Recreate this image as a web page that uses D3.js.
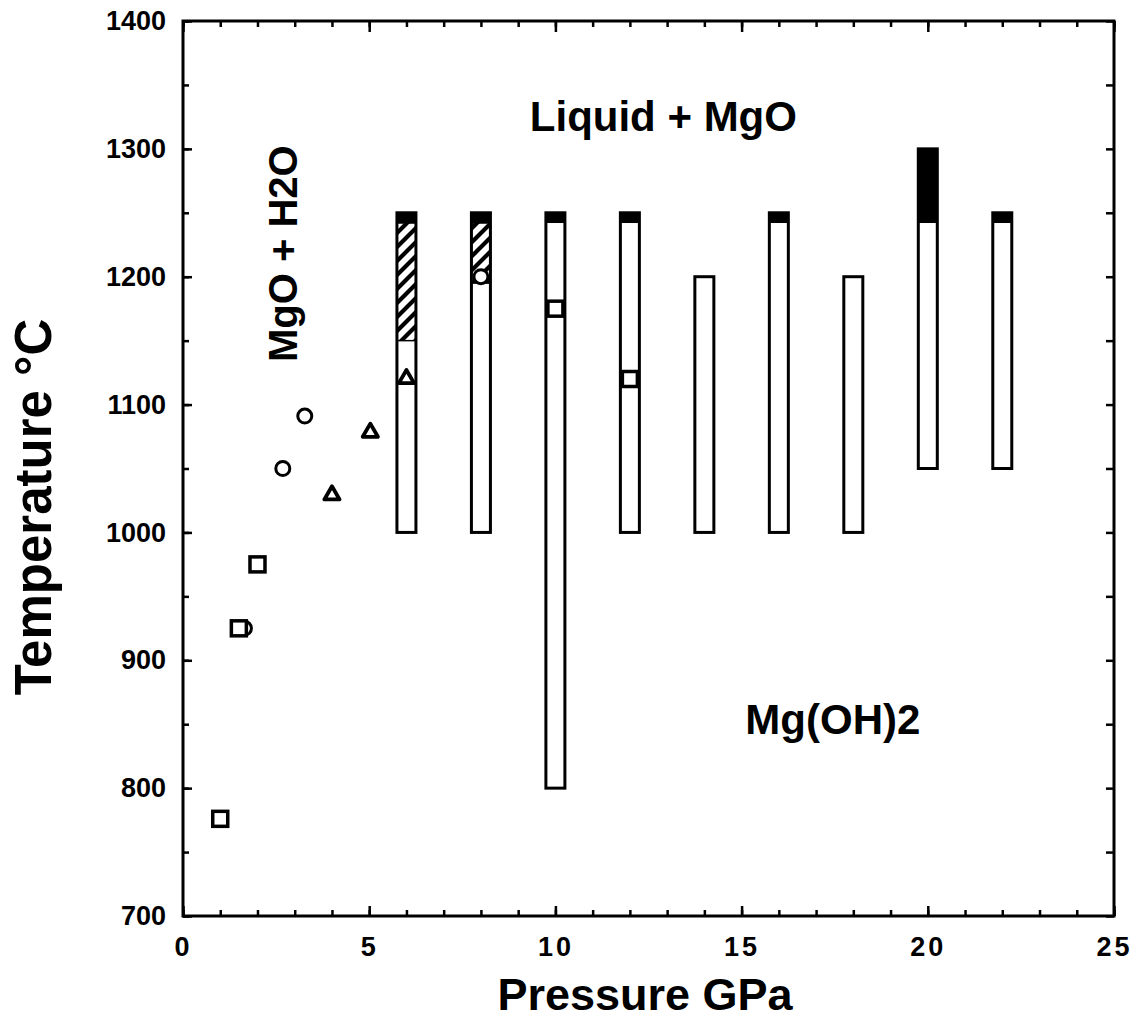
<!DOCTYPE html>
<html>
<head>
<meta charset="utf-8">
<script src="https://cdn.jsdelivr.net/npm/d3@7"></script>
<style>
  html, body { margin: 0; padding: 0; background: #fff; }
  svg { display: block; }
  text { font-family: "Liberation Sans", Arial, Helvetica, sans-serif; font-weight: bold; fill: #000; }
</style>
</head>
<body>
<svg id="chart" width="1139" height="1022"></svg>
<script>
// Experimental runs: pressure (GPa) and temperature span (°C) of each column
const runPressure = [6, 8, 10, 12, 14, 16, 18, 20, 22];
const runLow      = [1000, 1000, 800, 1000, 1000, 1000, 1000, 1050, 1050];
const runHigh     = [1250, 1250, 1250, 1250, 1200, 1250, 1200, 1300, 1250];
// melt observed (solid black) from this temperature up to the top of the column
const meltFrom    = [1242, 1242, 1242, 1242, null, 1242, null, 1242, 1242];
// hatched interval: from this temperature up to the melt band
const hatchFrom   = [1150, 1195, null, null, null, null, null, null, null];

// Literature brucite dehydration points
const squareP = [1, 1.5, 2, 10, 12];
const squareT = [776, 925, 975, 1175, 1120];
const circleP = [1.65, 2.68, 3.27, 8];
const circleT = [925, 1050, 1091, 1200];
const triangleP = [4, 5.03, 6];
const triangleT = [1030, 1079, 1121];

// Axis ticks
const xMajorTicks = [0, 5, 10, 15, 20, 25];
const yMajorTicks = [700, 800, 900, 1000, 1100, 1200, 1300, 1400];

// Field labels
const fieldLabels = [
  { text: "Liquid + MgO", p: 12.9, t: 1314, size: 42, rotate: false },
  { text: "MgO + H2O", p: 3.05, t: 1218, size: 40, rotate: true },
  { text: "Mg(OH)2", p: 17.45, t: 842, size: 42, rotate: false }
];

const svg = d3.select("#chart");
const plotLeft = 183, plotRight = 1114, plotTop = 21, plotBottom = 916;

const x = d3.scaleLinear().domain([0, 25]).range([plotLeft, plotRight]);
const y = d3.scaleLinear().domain([700, 1400]).range([plotBottom, plotTop]);

// hatch pattern
const hp = 14;
const defs = svg.append("defs");
const pat = defs.append("pattern")
  .attr("id", "hatch")
  .attr("patternUnits", "userSpaceOnUse")
  .attr("width", hp).attr("height", hp);
pat.append("rect").attr("width", hp).attr("height", hp).attr("fill", "#fff");
pat.append("path")
  .attr("d", `M-3,${hp + 3} L${hp + 3},-3 M-3,3 L3,-3 M${hp - 3},${hp + 3} L${hp + 3},${hp - 3}`)
  .attr("stroke", "#000").attr("stroke-width", 4.2);

// axes with inward ticks on all four sides
const xMinor = d3.range(0, 26, 1);
const yMinor = d3.range(700, 1401, 50);

function styleAxis(g) {
  g.select(".domain").remove();
  g.selectAll(".tick line").attr("stroke", "#000").attr("stroke-width", 2.5);
}
function styleLabels(g, size) {
  g.selectAll(".tick text").attr("font-size", size)
    .attr("font-family", '"Liberation Sans", Arial, sans-serif').attr("font-weight", "bold");
}

svg.append("g").attr("transform", `translate(0,${plotBottom})`)
  .call(d3.axisBottom(x).tickValues(xMinor).tickSize(-6).tickFormat(""))
  .call(styleAxis);
svg.append("g").attr("transform", `translate(0,${plotBottom})`)
  .call(d3.axisBottom(x).tickValues(xMajorTicks).tickSize(-10).tickPadding(21).tickFormat(d3.format("d")))
  .call(styleAxis)
  .call(g => styleLabels(g, 27))
  .call(g => g.selectAll(".tick text").attr("letter-spacing", 3));
svg.append("g").attr("transform", `translate(0,${plotTop})`)
  .call(d3.axisTop(x).tickValues(xMinor).tickSize(-6).tickFormat(""))
  .call(styleAxis);
svg.append("g").attr("transform", `translate(0,${plotTop})`)
  .call(d3.axisTop(x).tickValues(xMajorTicks).tickSize(-11).tickFormat(""))
  .call(styleAxis);

svg.append("g").attr("transform", `translate(${plotLeft},0)`)
  .call(d3.axisLeft(y).tickValues(yMinor).tickSize(-6).tickFormat(""))
  .call(styleAxis);
svg.append("g").attr("transform", `translate(${plotLeft},0)`)
  .call(d3.axisLeft(y).tickValues(yMajorTicks).tickSize(-9).tickPadding(17).tickFormat(d3.format("d")))
  .call(styleAxis)
  .call(g => styleLabels(g, 27));
svg.append("g").attr("transform", `translate(${plotRight},0)`)
  .call(d3.axisRight(y).tickValues(yMinor).tickSize(-8).tickFormat(""))
  .call(styleAxis);

// frame
svg.append("rect")
  .attr("x", plotLeft).attr("y", plotTop)
  .attr("width", plotRight - plotLeft).attr("height", plotBottom - plotTop)
  .attr("fill", "none").attr("stroke", "#000").attr("stroke-width", 3);

// run columns
const barW = 19;
const runs = runPressure.map((p, i) => ({
  p, lo: runLow[i], hi: runHigh[i], melt: meltFrom[i], hatch: hatchFrom[i]
}));
const cols = svg.append("g").selectAll("g").data(runs).join("g");
cols.append("rect")
  .attr("x", d => x(d.p) - barW / 2).attr("width", barW)
  .attr("y", d => y(d.hi)).attr("height", d => y(d.lo) - y(d.hi))
  .attr("fill", "#fff");
cols.filter(d => d.hatch != null).append("rect")
  .attr("x", d => x(d.p) - barW / 2).attr("width", barW)
  .attr("y", d => y(d.melt)).attr("height", d => y(d.hatch) - y(d.melt))
  .attr("fill", "url(#hatch)").attr("stroke", "#000").attr("stroke-width", 1.5);
cols.filter(d => d.melt != null).append("rect")
  .attr("x", d => x(d.p) - barW / 2).attr("width", barW)
  .attr("y", d => y(d.hi)).attr("height", d => y(d.melt) - y(d.hi))
  .attr("fill", "#000");
cols.append("rect")
  .attr("x", d => x(d.p) - barW / 2).attr("width", barW)
  .attr("y", d => y(d.hi)).attr("height", d => y(d.lo) - y(d.hi))
  .attr("fill", "none").attr("stroke", "#000").attr("stroke-width", 3);

// literature points
const circles = circleP.map((p, i) => ({ p, t: circleT[i] }));
const squares = squareP.map((p, i) => ({ p, t: squareT[i] }));
const triangles = triangleP.map((p, i) => ({ p, t: triangleT[i] }));

svg.append("g").selectAll("circle").data(circles).join("circle")
  .attr("cx", d => x(d.p)).attr("cy", d => y(d.t)).attr("r", 7)
  .attr("fill", "#fff").attr("stroke", "#000").attr("stroke-width", 3);
svg.append("g").selectAll("rect").data(squares).join("rect")
  .attr("x", d => x(d.p) - 7.5).attr("y", d => y(d.t) - 7.5)
  .attr("width", 15).attr("height", 15)
  .attr("fill", "#fff").attr("stroke", "#000").attr("stroke-width", 3.5);
const tri = d3.symbol().type(d3.symbolTriangle).size(100);
svg.append("g").selectAll("path").data(triangles).join("path")
  .attr("transform", d => `translate(${x(d.p)},${y(d.t) + 1})`)
  .attr("d", tri)
  .attr("fill", "#fff").attr("stroke", "#000").attr("stroke-width", 3.8)
  .attr("stroke-linejoin", "round");

// field labels
fieldLabels.forEach(l => {
  const t = svg.append("text")
    .attr("font-size", l.size)
    .attr("text-anchor", "middle")
    .text(l.text);
  if (l.rotate) {
    t.attr("transform", `translate(${x(l.p)},${y(l.t)}) rotate(-90)`);
  } else {
    t.attr("x", x(l.p)).attr("y", y(l.t));
  }
});

// axis titles
svg.append("text")
  .attr("x", 645).attr("y", 1010)
  .attr("text-anchor", "middle").attr("font-size", 45)
  .text("Pressure GPa");
svg.append("text")
  .attr("transform", `translate(51,507) rotate(-90)`)
  .attr("text-anchor", "middle").attr("font-size", 51)
  .text("Temperature °C");
</script>
</body>
</html>
